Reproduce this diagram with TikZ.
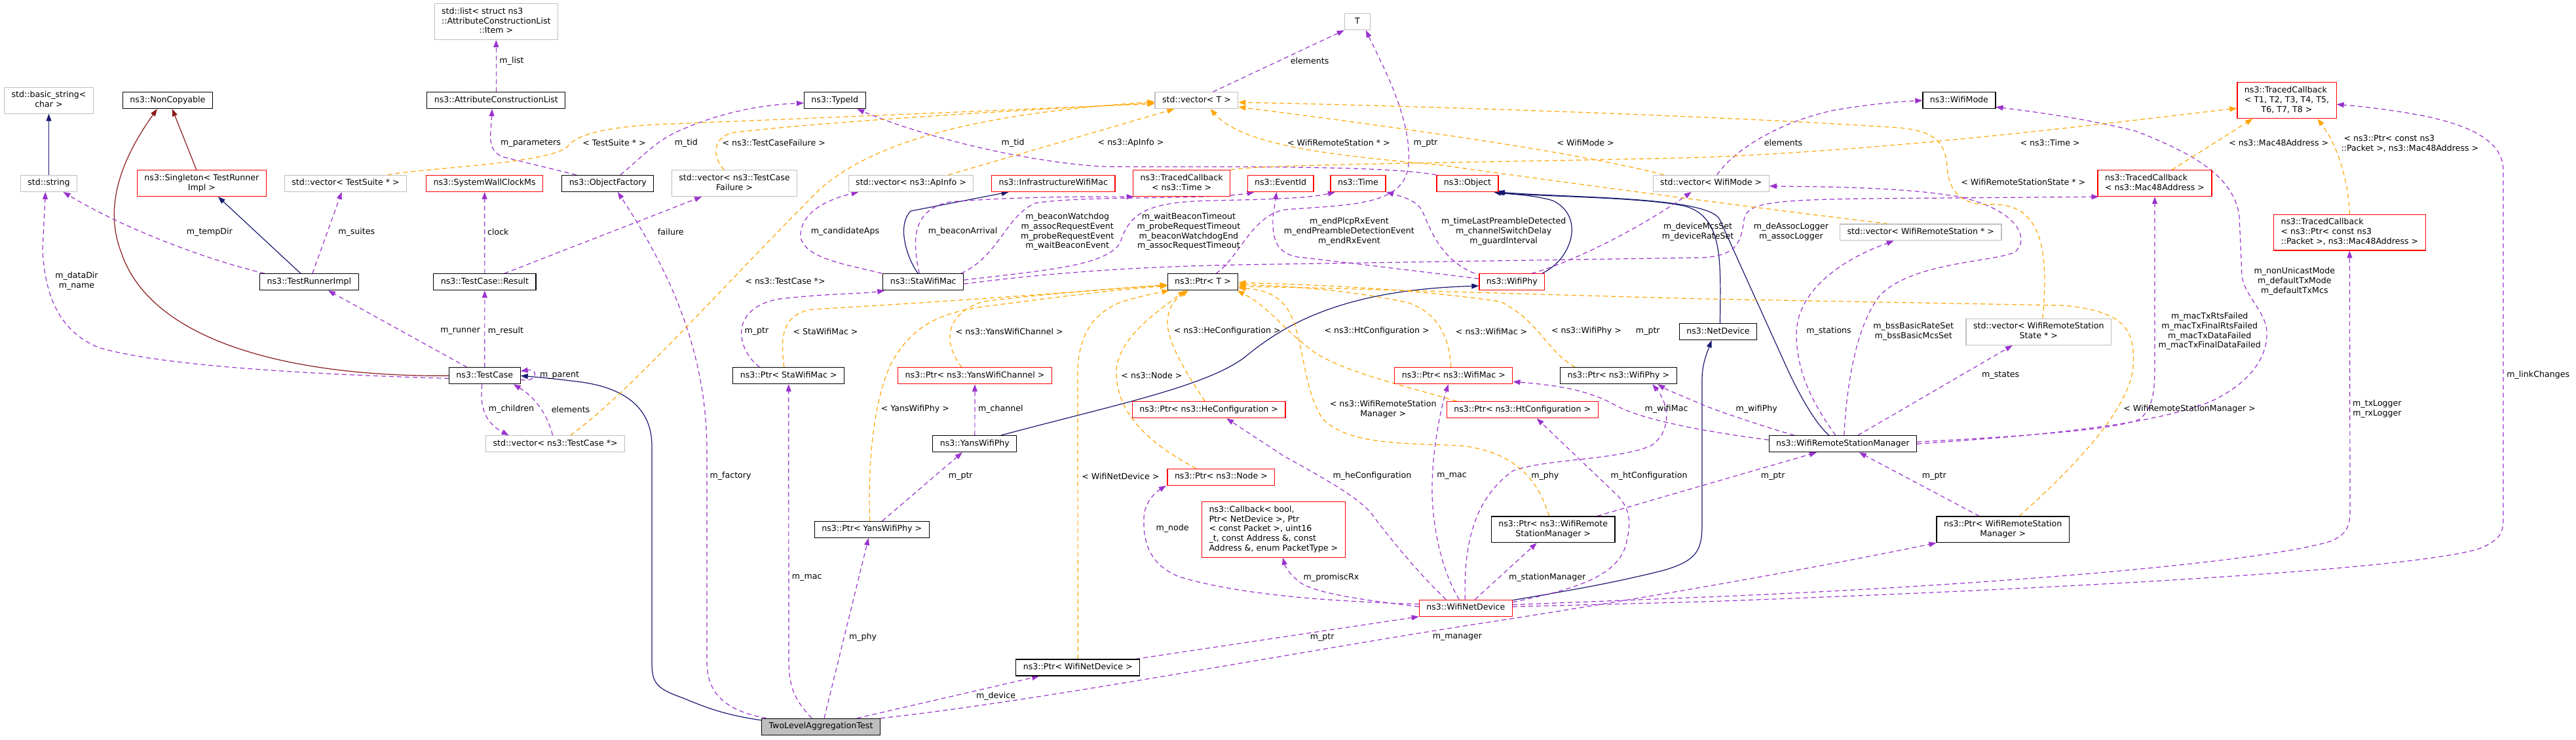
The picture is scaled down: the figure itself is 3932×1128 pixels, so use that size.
\documentclass[tikz,border=0pt]{standalone}
\usepackage{fontspec}
\setmainfont{DejaVu Sans}
\usetikzlibrary{arrows.meta}
\pgfdeclarelayer{bg}
\pgfsetlayers{bg,main}
\definecolor{cpurp}{HTML}{9A32CD}
\definecolor{corng}{HTML}{FFA500}
\definecolor{cnavy}{HTML}{191970}
\definecolor{cbrick}{HTML}{8B1A1A}
\definecolor{cgry}{HTML}{BFBFBF}
\newcommand\fs{\fontsize{12.6}{14.9}\selectfont}
\newcommand\mlines[1]{\begin{tabular}{@{}l@{}}#1\end{tabular}}
\newcommand\lastc[1]{\multicolumn{1}{@{}c@{}}{#1}}
\begin{document}
\begin{tikzpicture}[x=1pt,y=-1pt,
  box/.style={draw, line width=1.2pt, inner xsep=11pt, inner ysep=5pt, font=\fs, fill=white},
  blk/.style={box, draw=black},
  gryb/.style={box, draw=cgry},
  redb/.style={box, draw=red},
  lbl/.style={font=\fs, align=center, inner sep=0pt},
  use/.style={draw=cpurp, line width=1.2pt, dash pattern=on 7pt off 5pt, -{Triangle[length=11pt,width=8pt]}},
  tmpl/.style={draw=corng, line width=1.2pt, dash pattern=on 7pt off 5pt, -{Triangle[length=11pt,width=8pt]}},
  inh/.style={draw=cnavy, line width=1.2pt, -{Triangle[length=11pt,width=8pt]}},
  pinh/.style={draw=cbrick, line width=1.2pt, -{Triangle[length=11pt,width=8pt]}}]
\useasboundingbox (0,0) rectangle (3932,1128);

% ---------------- nodes ----------------
\node[gryb] (bstr) at (74.5,153.2) {\mlines{std::basic\_string<\\\lastc{char >}}};
\node[blk] (noncopy) at (255.9,153.2) {\strut ns3::NonCopyable};
\node[gryb] (str) at (74.5,279.9) {\strut std::string};
\node[redb] (singleton) at (307.9,279.7) {\mlines{ns3::Singleton< TestRunner\\\lastc{Impl >}}};
\node[gryb] (vsuite) at (527.6,279.9) {\strut std::vector< TestSuite * >};
\node[blk] (runner) at (471.9,430.2) {\strut ns3::TestRunnerImpl};
\node[gryb] (list) at (757.3,33.1) {\mlines{std::list< struct ns3\\::AttributeConstructionList\\\lastc{::Item >}}};
\node[blk] (acl) at (757.3,153.2) {\strut ns3::AttributeConstructionList};
\node[blk] (typeid) at (1274.3,153.2) {\strut ns3::TypeId};
\node[redb] (clock) at (739.6,279.9) {\strut ns3::SystemWallClockMs};
\node[blk] (factory) at (927.8,279.9) {\strut ns3::ObjectFactory};
\node[gryb] (vfail) at (1121,279.7) {\mlines{std::vector< ns3::TestCase\\\lastc{Failure >}}};
\node[blk] (result) at (739.9,430.2) {\strut ns3::TestCase::Result};
\node[blk] (testcase) at (739.8,573.3) {\strut ns3::TestCase};
\node[gryb] (vtc) at (847.6,677.2) {\strut std::vector< ns3::TestCase *>};
\node[blk] (pstamac) at (1203.7,573.3) {\strut ns3::Ptr< StaWifiMac >};
\node[blk] (pyansphy) at (1330.7,807.9) {\strut ns3::Ptr< YansWifiPhy >};
\node[blk, fill=cgry] (main) at (1253,1108.8) {\strut TwoLevelAggregationTest};
\node[gryb] (vT) at (1826.4,153.2) {\strut std::vector< T >};
\node[gryb] (vapinfo) at (1390.5,279.9) {\strut std::vector< ns3::ApInfo >};
\node[redb] (infra) at (1607.7,279.9) {\strut ns3::InfrastructureWifiMac};
\node[redb] (tctime) at (1803.6,279.7) {\mlines{ns3::TracedCallback\\\lastc{< ns3::Time >}}};
\node[redb] (eventid) at (1954.6,279.9) {\strut ns3::EventId};
\node[blk] (stamac) at (1409.2,430.2) {\strut ns3::StaWifiMac};
\node[blk] (ptrT) at (1836,430.2) {\strut ns3::Ptr< T >};
\node[redb] (pchan) at (1488,573.3) {\strut ns3::Ptr< ns3::YansWifiChannel >};
\node[blk] (yansphy) at (1487.8,677.2) {\strut ns3::YansWifiPhy};
\node[redb] (phecfg) at (1845.2,625.3) {\strut ns3::Ptr< ns3::HeConfiguration >};
\node[redb] (pnode) at (1863.9,727.8) {\strut ns3::Ptr< ns3::Node >};
\node[redb] (callback) at (1943.9,808) {\mlines{ns3::Callback< bool,\\Ptr< NetDevice >, Ptr\\< const Packet >, uint16\\\_t, const Address \&, const\\\lastc{Address \&, enum PacketType >}}};
\node[blk] (pwnd) at (1645.2,1018.5) {\strut ns3::Ptr< WifiNetDevice >};
\node[gryb, minimum width=39pt] (T) at (2071.9,33.1) {\strut T};
\node[redb] (time) at (2073,279.9) {\strut ns3::Time};
\node[redb] (object) at (2240,279.9) {\strut ns3::Object};
\node[gryb] (vmode) at (2611.7,279.9) {\strut std::vector< WifiMode >};
\node[redb] (wifiphy) at (2307.8,430.2) {\strut ns3::WifiPhy};
\node[blk] (netdevice) at (2622.5,506.2) {\strut ns3::NetDevice};
\node[redb] (pwmac) at (2218.8,573.3) {\strut ns3::Ptr< ns3::WifiMac >};
\node[blk] (pwphy) at (2470.3,573.3) {\strut ns3::Ptr< ns3::WifiPhy >};
\node[redb] (phtcfg) at (2323.7,625.3) {\strut ns3::Ptr< ns3::HtConfiguration >};
\node[blk] (pwrsm1) at (2370.7,807.9) {\mlines{ns3::Ptr< ns3::WifiRemote\\\lastc{StationManager >}}};
\node[redb] (wnd) at (2237.3,927.7) {\strut ns3::WifiNetDevice};
\node[blk] (wifimode) at (2990.4,153.2) {\strut ns3::WifiMode};
\node[redb] (tcmac) at (3289,279.7) {\mlines{ns3::TracedCallback\\\lastc{< ns3::Mac48Address >}}};
\node[gryb] (vrs) at (2931.7,354.4) {\strut std::vector< WifiRemoteStation * >};
\node[gryb] (vrss) at (3111.8,506.4) {\mlines{std::vector< WifiRemoteStation\\\lastc{State * >}}};
\node[blk] (wrsm) at (2812.8,677.2) {\strut ns3::WifiRemoteStationManager};
\node[blk] (pwrsm2) at (3057.2,807.9) {\mlines{ns3::Ptr< WifiRemoteStation\\\lastc{Manager >}}};
\node[redb] (tc8) at (3490.5,153.2) {\mlines{ns3::TracedCallback\\< T1, T2, T3, T4, T5,\\\lastc{T6, T7, T8 >}}};
\node[redb] (tcpkt) at (3586.4,354.6) {\mlines{ns3::TracedCallback\\< ns3::Ptr< const ns3\\\lastc{::Packet >, ns3::Mac48Address >}}};

% ---------------- labels ----------------
\node[lbl] (l1) at (319.9,353.7) {m\_tempDir};
\node[lbl] (l2) at (544.2,353.7) {m\_suites};
\node[lbl] (l3) at (117,429) {m\_dataDir\\m\_name};
\node[lbl] (l4) at (781,92.7) {m\_list};
\node[lbl] (l5) at (810,218.1) {m\_parameters};
\node[lbl] (l6) at (937.5,218.1) {< TestSuite * >};
\node[lbl] (l7) at (1047.3,218.1) {m\_tid};
\node[lbl] (l8) at (1181.2,218.1) {< ns3::TestCaseFailure >};
\node[lbl] (l9) at (760.3,353.3) {clock};
\node[lbl] (l10) at (1023.8,353.3) {failure};
\node[lbl] (l11) at (1290,353.3) {m\_candidateAps};
\node[lbl] (l12) at (1198.5,429) {< ns3::TestCase *>};
\node[lbl] (l13) at (702.6,505.3) {m\_runner};
\node[lbl] (l14) at (772,505.3) {m\_result};
\node[lbl] (l15) at (1155,505.3) {m\_ptr};
\node[lbl] (l16) at (1260,505.3) {< StaWifiMac >};
\node[lbl] (l17) at (854,572.5) {m\_parent};
\node[lbl] (l18) at (780.5,624.5) {m\_children};
\node[lbl] (l19) at (871,624.5) {elements};
\node[lbl] (l20) at (1115.1,726.3) {m\_factory};
\node[lbl] (l21) at (1231.7,881.5) {m\_mac};
\node[lbl] (l22) at (1317,972.6) {m\_phy};
\node[lbl] (l23) at (1546.2,218.1) {m\_tid};
\node[lbl] (l24) at (1726,218.1) {< ns3::ApInfo >};
\node[lbl] (l25) at (1469.6,353.3) {m\_beaconArrival};
\node[lbl] (l26) at (1629.2,353.3) {m\_beaconWatchdog\\m\_assocRequestEvent\\m\_probeRequestEvent\\m\_waitBeaconEvent};
\node[lbl] (l27) at (1814.4,353.3) {m\_waitBeaconTimeout\\m\_probeRequestTimeout\\m\_beaconWatchdogEnd\\m\_assocRequestTimeout};
\node[lbl] (l28) at (1540.8,505.3) {< ns3::YansWifiChannel >};
\node[lbl] (l29) at (1873.3,505.3) {< ns3::HeConfiguration >};
\node[lbl] (l30) at (1396.8,624.5) {< YansWifiPhy >};
\node[lbl] (l31) at (1527.3,624.5) {m\_channel};
\node[lbl] (l32) at (1466.3,726.3) {m\_ptr};
\node[lbl] (l33) at (1710.4,726.3) {< WifiNetDevice >};
\node[lbl] (l34) at (1758,572.5) {< ns3::Node >};
\node[lbl] (l35) at (1789.5,806.3) {m\_node};
\node[lbl] (l36) at (1520.1,1062.6) {m\_device};
\node[lbl] (l37) at (1999.2,92.7) {elements};
\node[lbl] (l38) at (2043.4,218.1) {< WifiRemoteStation * >};
\node[lbl] (l39) at (2176,218.1) {m\_ptr};
\node[lbl] (l40) at (2420.2,218.1) {< WifiMode >};
\node[lbl] (l41) at (2059.4,353.3) {m\_endPlcpRxEvent\\m\_endPreambleDetectionEvent\\m\_endRxEvent};
\node[lbl] (l42) at (2295.2,353.3) {m\_timeLastPreambleDetected\\m\_channelSwitchDelay\\m\_guardInterval};
\node[lbl] (l43) at (2591.5,353.7) {m\_deviceMcsSet\\m\_deviceRateSet};
\node[lbl] (l44) at (2101.5,505.3) {< ns3::HtConfiguration >};
\node[lbl] (l45) at (2276.6,505.3) {< ns3::WifiMac >};
\node[lbl] (l46) at (2421.4,505.3) {< ns3::WifiPhy >};
\node[lbl] (l47) at (2515.3,505.3) {m\_ptr};
\node[lbl] (l48) at (2111.2,624.2) {< ns3::WifiRemoteStation\\Manager >};
\node[lbl] (l49) at (2543.5,624.5) {m\_wifiMac};
\node[lbl] (l50) at (2094.4,726.3) {m\_heConfiguration};
\node[lbl] (l51) at (2216,726.3) {m\_mac};
\node[lbl] (l52) at (2358.3,726.3) {m\_phy};
\node[lbl] (l53) at (2517,726.3) {m\_htConfiguration};
\node[lbl] (l54) at (2032,881.5) {m\_promiscRx};
\node[lbl] (l55) at (2361.7,881.5) {m\_stationManager};
\node[lbl] (l56) at (2018.2,972.4) {m\_ptr};
\node[lbl] (l57) at (2224.4,972.4) {m\_manager};
\node[lbl] (l58) at (2722,218.1) {elements};
\node[lbl] (l59) at (3129.1,218.1) {< ns3::Time >};
\node[lbl] (l60) at (3088.3,278.1) {< WifiRemoteStationState * >};
\node[lbl] (l61) at (2733.9,353.3) {m\_deAssocLogger\\m\_assocLogger};
\node[lbl] (l62) at (2791.5,505.3) {m\_stations};
\node[lbl] (l63) at (2920.7,505.3) {m\_bssBasicRateSet\\m\_bssBasicMcsSet};
\node[lbl] (l64) at (3053.7,572.5) {m\_states};
\node[lbl] (l65) at (2681.2,624.5) {m\_wifiPhy};
\node[lbl] (l66) at (2706.1,726.3) {m\_ptr};
\node[lbl] (l67) at (2952.3,726.3) {m\_ptr};
\node[lbl] (l68) at (3342,624.5) {< WifiRemoteStationManager >};
\node[lbl] (l69) at (3478.3,218.1) {< ns3::Mac48Address >};
\node[lbl, align=left] (l70) at (3678.4,218.8) {\ < ns3::Ptr< const ns3\\::Packet >, ns3::Mac48Address >};
\node[lbl] (l71) at (3502.3,429.3) {m\_nonUnicastMode\\m\_defaultTxMode\\m\_defaultTxMcs};
\node[lbl] (l72) at (3372.7,505.3) {m\_macTxRtsFailed\\m\_macTxFinalRtsFailed\\m\_macTxDataFailed\\m\_macTxFinalDataFailed};
\node[lbl] (l73) at (3628.4,624.2) {m\_txLogger\\m\_rxLogger};
\node[lbl] (l74) at (3874.2,572.5) {m\_linkChanges};

% ---------------- edges ----------------
\begin{pgfonlayer}{bg}
\fill[white] (0,0) rectangle (3932,1128);
% inheritance
\draw[inh] (str) -- (bstr);
\draw[inh] ([xshift=-13pt]runner.north) -- ([xshift=25pt]singleton.south);
\draw[inh] ([xshift=-8pt]stamac.north) .. controls (1385,395) and (1368,345) .. (1390,322) -- ([xshift=-68pt]infra.south);
\draw[inh] ([xshift=40pt]yansphy.north) .. controls (1700,618) and (1840,590) .. (1900,545) .. controls (1960,495) and (2050,442) .. ([yshift=-6pt]wifiphy.west);
\draw[inh] ([xshift=46pt]wifiphy.north) .. controls (2400,395) and (2420,330) .. (2370,306) .. controls (2340,297) and (2300,296) .. ([xshift=40pt]object.south);
\draw[inh] ([xshift=3pt]netdevice.north) .. controls (2626,400) and (2632,330) .. (2570,314) .. controls (2500,300) and (2340,300) .. ([xshift=44pt]object.south);
\draw[inh] ([xshift=-21pt]wrsm.north) .. controls (2770,645) and (2745,600) .. (2726,558) -- (2625,335) .. controls (2608,300) and (2400,302) .. ([xshift=46pt]object.south);
\draw[inh] ([yshift=12pt]wnd.east) .. controls (2400,900) and (2460,890) .. (2540,870) .. controls (2590,855) and (2598,840) .. (2598,800) -- (2598,580) .. controls (2598,555) and (2605,540) .. ([xshift=-10pt]netdevice.south);
\draw[inh] ([yshift=10pt]main.west) .. controls (1100,1090) and (1070,1076) .. (1040,1064) .. controls (1000,1050) and (995,1040) .. (995,1010) -- (995,680) .. controls (995,620) and (950,590) .. (880,582) .. controls (840,577) and (815,575) .. (testcase.east);
% private inheritance
\draw[pinh] ([xshift=-8pt]singleton.north) -- ([xshift=7pt]noncopy.south);
\draw[pinh] (testcase.west) .. controls (440,575) and (230,520) .. (185,385) .. controls (160,320) and (180,250) .. ([xshift=-16pt]noncopy.south);
% usage
\draw[use] (acl) -- (list);
\draw[use] ([xshift=-48pt]factory.north) -- (770,240) .. controls (748,233) and (748,215) .. (749,200) -- ([xshift=-6pt]acl.south);
\draw[use] ([xshift=19pt]factory.north) .. controls (980,240) and (1000,215) .. (1040,198) .. controls (1100,172) and (1160,160) .. ([yshift=-4pt]typeid.west);
\draw[use] (result) -- (clock);
\draw[use] ([xshift=30pt]result.north) -- ([xshift=-50pt]vfail.south);
\draw[use] ([xshift=-83pt]main.north) .. controls (1110,1085) and (1079,1060) .. (1079,1010) -- (1079,690) .. controls (1079,560) and (1040,440) .. ([xshift=15pt]factory.south);
\draw[use] ([xshift=-4pt]vtc.north) .. controls (835,630) and (815,605) .. ([xshift=44pt]testcase.south);
\draw[use] ([xshift=-4pt]testcase.south) .. controls (732,620) and (740,645) .. ([xshift=-71pt]vtc.north);
\draw[use] ([yshift=-6pt]testcase.east) .. controls (822,584) and (822,562) .. ([yshift=7pt]testcase.east);
\draw[use] ([yshift=-4pt]testcase.west) .. controls (500,572) and (250,560) .. (150,530) .. controls (90,505) and (68,450) .. (65,380) -- ([xshift=-5pt]str.south);
\draw[use] ([xshift=-68pt]runner.north) .. controls (330,400) and (200,355) .. ([xshift=22pt]str.south);
\draw[use] ([xshift=5pt]runner.north) -- ([xshift=-6pt]vsuite.south);
\draw[use] ([xshift=-27pt]testcase.north) -- ([xshift=29pt]runner.south);
\draw[use] (testcase) -- (result);
\draw[use] ([xshift=-63pt]stamac.north) .. controls (1300,405) and (1225,395) .. (1222,360) .. controls (1222,325) and (1260,305) .. ([xshift=-80pt]vapinfo.south);
\draw[use] ([xshift=-44pt]pstamac.north) .. controls (1125,535) and (1110,470) .. (1190,456) .. controls (1260,448) and (1320,448) .. ([xshift=-59pt]stamac.south);
\draw[use] ([xshift=-6pt]stamac.north) .. controls (1393,370) and (1390,320) .. (1450,308) .. controls (1550,300) and (1650,300) .. ([xshift=-73pt]tctime.south);
\draw[use] ([xshift=58pt]stamac.north) .. controls (1525,390) and (1535,330) .. (1580,310) .. controls (1650,298) and (1850,305) .. ([xshift=-40pt]eventid.south);
\draw[use] ([yshift=3pt]stamac.east) .. controls (1600,412) and (1690,405) .. (1710,370) .. controls (1725,320) and (1760,308) .. (1850,306) .. controls (1950,304) and (2000,302) .. ([xshift=-35pt]time.south);
\draw[use] ([yshift=-3pt]stamac.east) .. controls (1650,410) and (1800,405) .. (1950,403) -- (2600,393) .. controls (2650,390) and (2658,370) .. (2662,335) .. controls (2666,310) and (2700,305) .. (2850,303) -- ([xshift=2pt]tcmac.south west);
\draw[use] ([yshift=5pt]wifiphy.west) .. controls (2150,412) and (2050,400) .. (1980,392) .. controls (1945,385) and (1942,360) .. (1943,330) -- ([xshift=-6pt]eventid.south);
\draw[use] ([xshift=-57pt]wifiphy.north) .. controls (2195,395) and (2180,340) .. (2170,320) .. controls (2160,305) and (2140,300) .. ([xshift=43pt]time.south);
\draw[use] ([xshift=20pt]ptrT.north) .. controls (1890,395) and (1910,330) .. (1960,320) .. controls (2060,312) and (2145,315) .. (2150,250) .. controls (2155,180) and (2110,100) .. ([xshift=13pt]T.south);
\draw[use] ([xshift=25pt]vT.north) -- (T.south west);
\draw[use] (object.north west) .. controls (2100,250) and (1800,256) .. (1680,254) .. controls (1550,245) and (1400,205) .. ([xshift=34pt]typeid.south);
\draw[use] ([xshift=9pt]vmode.north) .. controls (2650,225) and (2720,185) .. (2800,168) .. controls (2860,158) and (2900,155) .. (wifimode.west);
\draw[use] ([xshift=30pt]wifiphy.north) .. controls (2400,400) and (2500,350) .. ([xshift=-30pt]vmode.south);
\draw[use] ([xshift=-11pt]wrsm.north) .. controls (2770,620) and (2742,570) .. (2742,510) .. controls (2742,450) and (2800,400) .. ([xshift=-41pt]vrs.south);
\draw[use] ([xshift=2pt]wrsm.north) .. controls (2818,600) and (2830,500) .. (2870,450) .. controls (2920,400) and (3040,400) .. (3075,385) .. controls (3100,365) and (3080,320) .. (2990,300) .. controls (2900,285) and (2780,285) .. ([yshift=-4pt]vmode.east);
\draw[use] ([xshift=23pt]wrsm.north) -- ([xshift=-40pt]vrss.south);
\draw[use] ([yshift=6pt]wrsm.west) .. controls (2600,658) and (2500,640) .. (2460,615) .. controls (2420,595) and (2380,588) .. ([yshift=-9pt]pwmac.east);
\draw[use] ([xshift=-74pt]wrsm.north) .. controls (2690,650) and (2630,630) .. (2600,618) .. controls (2570,605) and (2545,595) .. ([xshift=60pt]pwphy.south);
\draw[use] ([xshift=67pt]pwrsm1.north) -- ([xshift=-40pt]wrsm.south);
\draw[use] ([xshift=-36pt]pwrsm2.north) -- ([xshift=25pt]wrsm.south);
\draw[use] ([yshift=3pt]wrsm.east) .. controls (3100,665) and (3230,655) .. (3265,640) .. controls (3285,625) and (3289,600) .. (3289,560) -- (tcmac.south);
\draw[use] (wrsm.east) .. controls (3150,662) and (3300,645) .. (3380,610) .. controls (3440,580) and (3462,540) .. (3460,505) .. controls (3458,475) and (3425,450) .. (3422,420) -- (3418,330) .. controls (3410,270) and (3350,235) .. (3260,200) .. controls (3180,180) and (3100,170) .. ([yshift=-10pt]wifimode.east);
\draw[use] ([xshift=14pt]wnd.north) -- ([xshift=-25pt]pwrsm1.south);
\draw[use] ([xshift=-10pt]wnd.north) .. controls (2200,870) and (2185,800) .. (2186,740) .. controls (2187,680) and (2200,620) .. ([xshift=-8pt]pwmac.south);
\draw[use] ([xshift=-1pt]wnd.north) .. controls (2234,830) and (2250,760) .. (2310,718) .. controls (2360,700) and (2470,702) .. (2520,680) .. controls (2550,660) and (2550,620) .. ([xshift=52pt]pwphy.south);
\draw[use] ([yshift=9pt]wnd.east) .. controls (2400,900) and (2470,880) .. (2482,830) .. controls (2492,790) and (2485,775) .. (2470,757) -- ([xshift=22pt]phtcfg.south);
\draw[use] ([xshift=-30pt]wnd.north) .. controls (2170,880) and (2120,820) .. (2093,783) .. controls (2075,762) and (2040,740) .. (1960,696) -- ([xshift=27pt]phecfg.south);
\draw[use] ([yshift=6pt]wnd.west) .. controls (2050,918) and (1900,910) .. (1800,880) .. controls (1750,860) and (1745,820) .. (1746,790) .. controls (1747,765) and (1765,750) .. ([xshift=-84pt]pnode.south);
\draw[use] ([yshift=2pt]wnd.west) .. controls (2080,915) and (2000,905) .. (1980,885) .. controls (1968,875) and (1962,865) .. ([xshift=14pt]callback.south);
\draw[use] ([xshift=88pt]pwnd.north) -- (wnd.south west);
\draw[use] ([xshift=55pt]main.north) -- ([xshift=-59pt]pwnd.south);
\draw[use] (main.north east) .. controls (1600,1068) and (2000,990) .. (2300,945) .. controls (2600,898) and (2800,860) .. (pwrsm2.south west);
\draw[use] ([yshift=5pt]wnd.east) -- (2600,911) .. controls (3000,895) and (3450,860) .. (3560,825) .. controls (3580,815) and (3587,805) .. (3587,780) -- (tcpkt.south);
\draw[use] ([yshift=2pt]wnd.east) -- (2600,918) .. controls (3100,900) and (3700,870) .. (3790,835) .. controls (3815,822) and (3821,815) .. (3821,790) -- (3821,260) .. controls (3821,215) and (3770,190) .. (3690,175) .. controls (3640,166) and (3600,162) .. ([yshift=-6pt]tc8.east);
\draw[use] (yansphy) -- (pchan);
\draw[use] ([xshift=16pt]pyansphy.north) -- ([xshift=-19pt]yansphy.south);
\draw[use] ([xshift=-14pt]main.north) .. controls (1215,1070) and (1204,1050) .. (1204,1010) -- (pstamac.south);
\draw[use] ([xshift=5pt]main.north) -- ([xshift=-5pt]pyansphy.south);
% template instances
\draw[tmpl] ([xshift=64pt]vsuite.north) .. controls (650,256) and (830,250) .. (865,225) .. controls (880,205) and (920,195) .. (1000,190) .. controls (1300,178) and (1600,165) .. ([yshift=-5pt]vT.west);
\draw[tmpl] ([xshift=-16pt]vfail.north) .. controls (1088,240) and (1085,210) .. (1120,202) .. controls (1300,182) and (1600,166) .. ([yshift=-4pt]vT.west);
\draw[tmpl] ([xshift=23pt]vtc.north) .. controls (960,600) and (1100,440) .. (1250,290) .. controls (1350,200) and (1550,170) .. ([yshift=-2pt]vT.west);
\draw[tmpl] ([xshift=57pt]vapinfo.north) -- ([xshift=-34pt]vT.south);
\draw[tmpl] ([xshift=-72pt]vmode.north) .. controls (2400,230) and (2100,190) .. ([yshift=-10pt]vT.east);
\draw[tmpl] ([xshift=6pt]vrss.north) .. controls (3122,440) and (3125,380) .. (3105,345) .. controls (3090,320) and (3070,310) .. (3030,312) .. controls (2990,310) and (2975,290) .. (2972,255) .. controls (2970,215) and (2950,200) .. (2900,195) .. controls (2600,175) and (2100,160) .. ([yshift=-3pt]vT.east);
\draw[tmpl] ([xshift=-50pt]vrs.north) .. controls (2700,320) and (2400,280) .. (2200,252) .. controls (2050,238) and (1900,225) .. ([xshift=21pt]vT.south);
\draw[tmpl] (tctime.north east) .. controls (1920,250) and (2300,248) .. (2600,240) .. controls (2900,228) and (3200,190) .. ([yshift=-12pt]tc8.west);
\draw[tmpl] ([xshift=26pt]tcmac.north) -- ([xshift=-52pt]tc8.south);
\draw[tmpl] (tcpkt.north) .. controls (3585,280) and (3570,225) .. ([xshift=47pt]tc8.south);
\draw[tmpl] ([xshift=-7pt]pstamac.north) .. controls (1192,520) and (1190,480) .. (1240,472) .. controls (1450,460) and (1650,445) .. ([yshift=-4pt]ptrT.west);
\draw[tmpl] ([xshift=-3pt]pyansphy.north) .. controls (1325,720) and (1330,620) .. (1360,555) .. controls (1390,500) and (1430,478) .. (1500,468) .. controls (1600,455) and (1700,442) .. ([yshift=-6pt]ptrT.west);
\draw[tmpl] ([xshift=-20pt]pchan.north) .. controls (1440,525) and (1440,480) .. (1500,460) .. controls (1600,448) and (1700,440) .. ([yshift=-5pt]ptrT.west);
\draw[tmpl] (pwnd.north) -- (1645,570) .. controls (1645,500) and (1680,470) .. (1720,458) .. controls (1750,450) and (1765,447) .. ([xshift=3pt]ptrT.south west);
\draw[tmpl] ([xshift=-38pt]pnode.north) .. controls (1770,685) and (1705,640) .. (1704,570) .. controls (1703,520) and (1760,480) .. ([xshift=-27pt]ptrT.south);
\draw[tmpl] ([xshift=-6pt]phecfg.north) .. controls (1815,575) and (1785,530) .. (1782,495) .. controls (1781,470) and (1795,455) .. ([xshift=-22pt]ptrT.south);
\draw[tmpl] ([xshift=-100pt]phtcfg.north) .. controls (2150,590) and (2060,570) .. (2010,540) .. controls (1960,505) and (1940,470) .. ([xshift=-2pt]ptrT.south east);
\draw[tmpl] ([xshift=-4pt]pwmac.north) .. controls (2212,520) and (2200,480) .. (2150,462) .. controls (2050,440) and (1950,436) .. ([yshift=-4pt]ptrT.east);
\draw[tmpl] ([xshift=-66pt]pwphy.north) .. controls (2360,535) and (2350,490) .. (2290,460) .. controls (2150,440) and (2000,434) .. ([yshift=-1pt]ptrT.east);
\draw[tmpl] ([xshift=-6pt]pwrsm1.north) .. controls (2350,740) and (2320,690) .. (2230,680) .. controls (2150,676) and (2060,680) .. (2020,640) .. controls (1990,600) and (1990,520) .. (1970,480) .. controls (1955,450) and (1930,442) .. ([yshift=-9pt]ptrT.east);
\draw[tmpl] ([xshift=25pt]pwrsm2.north) .. controls (3180,700) and (3250,620) .. (3256,560) .. controls (3260,500) and (3240,475) .. (3150,466) -- (2600,456) .. controls (2300,448) and (2000,438) .. ([yshift=-7pt]ptrT.east);
\end{pgfonlayer}
\end{tikzpicture}
\end{document}
